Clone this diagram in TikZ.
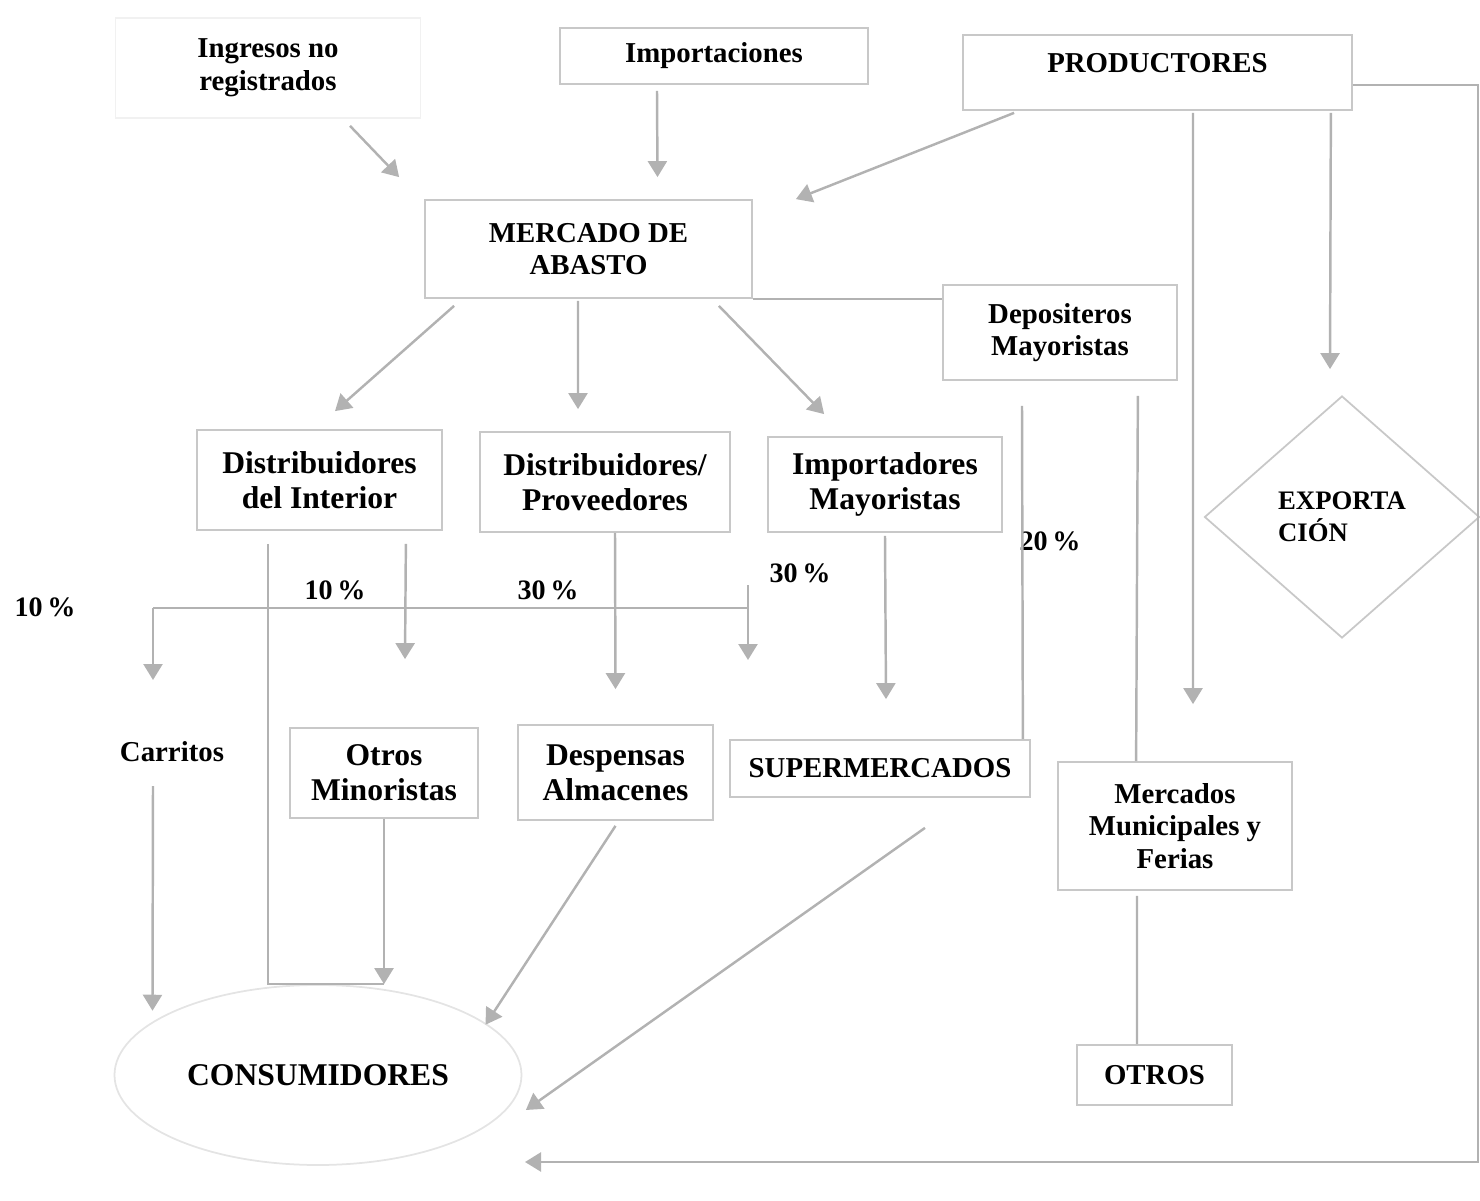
\documentclass[tikz,border=0pt]{standalone}
\usepackage{fontspec}
\setmainfont{Liberation Serif}
\usetikzlibrary{arrows.meta,shapes.geometric}
\definecolor{lineGray}{RGB}{178,178,178}
\definecolor{boxGray}{RGB}{200,200,200}
\tikzset{
  box/.style={draw=boxGray, line width=0.5pt, align=center, inner sep=2pt, font=\bfseries\fontsize{8.2}{9.3}\selectfont},
  bigbox/.style={box, font=\bfseries\fontsize{9}{10}\selectfont},
  flow/.style={lineGray, line width=0.7pt, -{Triangle[length=1.6mm,width=1.9mm]}},
  link/.style={lineGray, line width=0.7pt},
  pct/.style={font=\bfseries\fontsize{8}{9}\selectfont, inner sep=1pt}
}
\begin{document}
\begin{tikzpicture}[scale=1.0]
    \useasboundingbox (0,0) rectangle (14.8,-12.01);
    % top row
    \node[box, draw=boxGray!25, minimum width=3.05cm, minimum height=1cm] (ingresos) at (2.68,-0.68) {Ingresos no\\registrados};
    \node[box, minimum width=3.08cm, minimum height=0.56cm] (import) at (7.14,-0.56) {Importaciones};
    \node[box, minimum width=3.89cm, minimum height=0.75cm, text depth=0.2cm] (prod) at (11.575,-0.725) {PRODUCTORES};
    \node[box, minimum width=3.27cm, minimum height=0.98cm] (mercado) at (5.885,-2.49) {MERCADO DE\\ABASTO};
    \node[box, minimum width=2.34cm, minimum height=0.95cm] (deposit) at (10.60,-3.325) {Depositeros\\Mayoristas};
    \node[box, diamond, minimum width=2.75cm, minimum height=2.42cm, align=left, font=\bfseries\fontsize{7.6}{9}\selectfont] (export) at (13.42,-5.17) {EXPORTA\\CIÓN};
    % middle row
    \node[bigbox, minimum width=2.45cm, minimum height=1cm] (dint) at (3.195,-4.80) {Distribuidores\\del Interior};
    \node[bigbox, minimum width=2.5cm, minimum height=1cm] (dprov) at (6.05,-4.82) {Distribuidores/\\Proveedores};
    \node[bigbox, minimum width=2.34cm, minimum height=0.95cm] (impmay) at (8.85,-4.845) {Importadores\\Mayoristas};
    % retail row
    \node[box, draw=none] (carritos) at (1.72,-7.52) {Carritos};
    \node[bigbox, minimum width=1.88cm, minimum height=0.9cm] (otrmin) at (3.84,-7.73) {Otros\\Minoristas};
    \node[bigbox, minimum width=1.95cm, minimum height=0.95cm] (desp) at (6.155,-7.725) {Despensas\\Almacenes};
    \node[box, minimum width=3.0cm, minimum height=0.57cm] (super) at (8.80,-7.685) {SUPERMERCADOS};
    \node[box, minimum width=2.34cm, minimum height=1.28cm] (mercmun) at (11.75,-8.26) {Mercados\\Municipales y\\Ferias};
    \node[box, minimum width=1.55cm, minimum height=0.6cm] (otros) at (11.545,-10.75) {OTROS};
    \node[bigbox, ellipse, draw=boxGray!50, minimum width=4.07cm, minimum height=1.8cm] (consum) at (3.18,-10.75) {CONSUMIDORES};
    % percentages
    \node[pct] (p1) at (0.45,-6.07) {10\,\%};
    \node[pct] (p2) at (3.35,-5.90) {10\,\%};
    \node[pct] (p3) at (5.48,-5.90) {30\,\%};
    \node[pct] (p4) at (8.00,-5.73) {30\,\%};
    \node[pct] (p5) at (10.50,-5.41) {20\,\%};
    % split line
    \coordinate (splitL) at (1.53,-6.08);
    \coordinate (splitR) at (7.48,-6.08);
    \coordinate (carIn) at (1.53,-6.80);
    \coordinate (supIn) at (7.48,-6.60);
    \coordinate (edgeSE) at (14.78,-11.62);
    \coordinate (backIn) at (5.25,-11.62);
    % into the Mercado de Abasto
    \draw[flow] ([xshift=8.2mm,yshift=-0.7mm]ingresos.south) -- ([xshift=-2.5mm,yshift=2.2mm]mercado.north west);
    \draw[flow] ([xshift=-5.7mm,yshift=-0.6mm]import.south) -- ([xshift=6.9mm,yshift=2.2mm]mercado.north);
    \draw[flow] ([xshift=5.2mm,yshift=-0.2mm]prod.south west) -- ([xshift=4.3mm]mercado.north east);
    % productores
    \draw[flow] ([xshift=3.55mm,yshift=-0.2mm]prod.south) -- ([xshift=1.8mm,yshift=5.7mm]mercmun.north);
    \draw[flow] ([xshift=-2.2mm,yshift=-0.2mm]prod.south east) -- ([xshift=-1.2mm,yshift=2.6mm]export.north);
    \draw[flow] ([yshift=-1.25mm]prod.east) -| (edgeSE) -- (backIn);
    % out of the Mercado de Abasto
    \draw[flow] ([xshift=3mm,yshift=-0.7mm]mercado.south west) -- ([xshift=1.55mm,yshift=1.8mm]dint.north);
    \draw[flow] ([xshift=-1.05mm,yshift=-0.2mm]mercado.south) -- ([xshift=-2.7mm,yshift=2.2mm]dprov.north);
    \draw[flow] ([xshift=-3.4mm,yshift=-0.7mm]mercado.south east) -- ([xshift=5.7mm,yshift=2.2mm]impmay.north west);
    \draw[link] (mercado.south east) -- (mercado.south east -| deposit.west);
    % depositeros
    \draw[link] ([xshift=-3.8mm,yshift=-2.5mm]deposit.south) -- ([xshift=-0.8mm]super.north east);
    \draw[link] ([xshift=-4mm,yshift=-1.5mm]deposit.south east) -- ([xshift=7.9mm]mercmun.north west);
    % distributors
    \draw[link] ([xshift=-5.15mm,yshift=-1.3mm]dint.south) |- (otrmin.south |- consum.north);
    \draw[flow] ([xshift=-3.7mm,yshift=-1.3mm]dint.south east) -- ([xshift=2.1mm,yshift=6.8mm]otrmin.north);
    \draw[flow] ([xshift=1mm]dprov.south) -- ([yshift=3.5mm]desp.north);
    \draw[link] (splitL) -- (splitR);
    \draw[flow] (splitL) -- (carIn);
    \draw[flow] ([yshift=2.3mm]splitR) -- (supIn);
    \draw[flow] ([yshift=-0.3mm]impmay.south) -- ([xshift=0.6mm,yshift=4mm]super.north);
    % to the consumers
    \draw[flow] ([xshift=-1.9mm,yshift=-1.6mm]carritos.south) -- ([xshift=-2.1mm]consum.north west);
    \draw[flow] (otrmin.south) -- (otrmin.south |- consum.north);
    \draw[flow] ([yshift=-0.5mm]desp.south) -- ([xshift=2.3mm,yshift=-1.4mm]consum.north east);
    \draw[flow] ([xshift=4.5mm,yshift=-3mm]super.south) -- ([xshift=0.35mm,yshift=-3.5mm]consum.east);
    \draw[link] ([xshift=-3.8mm,yshift=-0.5mm]mercmun.south) -- ([xshift=-1.75mm]otros.north);
\end{tikzpicture}
\end{document}
